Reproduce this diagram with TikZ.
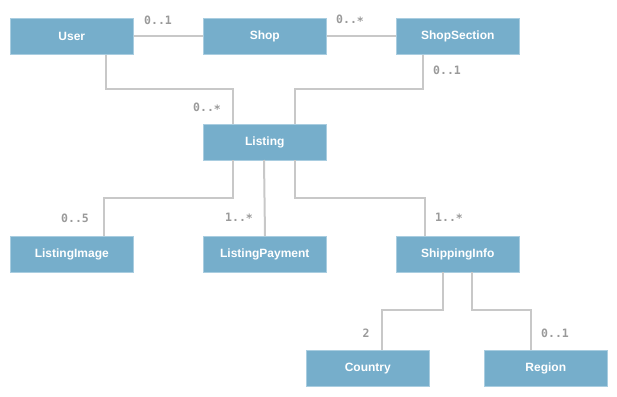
\documentclass[tikz,border=0pt]{standalone}
\usepackage{fontspec}
\setmainfont{Liberation Sans}
\newfontfamily\monof{DejaVu Sans Mono}
\definecolor{boxblue}{HTML}{76AECB}
\definecolor{boxedge}{HTML}{A9CDE0}
\definecolor{linegray}{HTML}{C8C8C8}
\definecolor{labgray}{HTML}{9A9A9A}
\newcommand{\lowast}{\raisebox{-0.25ex}{*}}
\begin{document}
\begin{tikzpicture}[x=1pt,y=-1pt,
  cls/.style={draw=boxedge,line width=0.6pt,fill=boxblue,text=white,font=\bfseries\fontsize{12}{14}\selectfont,minimum width=123pt,minimum height=36pt,inner sep=0pt,anchor=north west},
  conn/.style={draw=linegray,line width=2pt},
  mult/.style={text=labgray,font=\monof\bfseries\fontsize{11.5}{13}\selectfont,inner sep=0pt}]
\useasboundingbox (0,0) rectangle (617,396);
\node[cls] (user) at (10,18) {User};
\node[cls] (shop) at (203,18) {Shop};
\node[cls] (sec) at (396,18) {ShopSection};
\node[cls] (listing) at (203,124) {Listing};
\node[cls] (img) at (10,236) {ListingImage};
\node[cls] (pay) at (203,236) {ListingPayment};
\node[cls] (ship) at (396,236) {ShippingInfo};
\node[cls] (country) at (306,350) {Country};
\node[cls] (region) at (484,350) {Region};
% connectors
\draw[conn] (user.east) -- (shop.west);
\draw[conn] (shop.east) -- (sec.west);
\draw[conn] (user.south west) ++(96,0) |- (233,89) -- (233,124);
\draw[conn] (sec.south west) ++(27,0) |- (295,89) -- (295,124);
\draw[conn] (233,160) |- (104,198) -- (104,236);
\draw[conn] (264,160) -- (265,236);
\draw[conn] (295,160) |- (425,198) -- (425,236);
\draw[conn] (443,272) |- (382,310) -- (382,350);
\draw[conn] (472,272) |- (531,310) -- (531,350);
% multiplicities
\node[mult] (m1) at (158,20) {0..1};
\node[mult] (m2) at (350,20) {0..\lowast};
\node[mult] (m3) at (207,108) {0..\lowast};
\node[mult] (m4) at (447,70) {0..1};
\node[mult] (m5) at (75,218) {0..5};
\node[mult] (m6) at (239,218) {1..\lowast};
\node[mult] (m7) at (449,218) {1..\lowast};
\node[mult] (m8) at (366,333) {2};
\node[mult] (m9) at (555,333) {0..1};
\end{tikzpicture}
\end{document}
